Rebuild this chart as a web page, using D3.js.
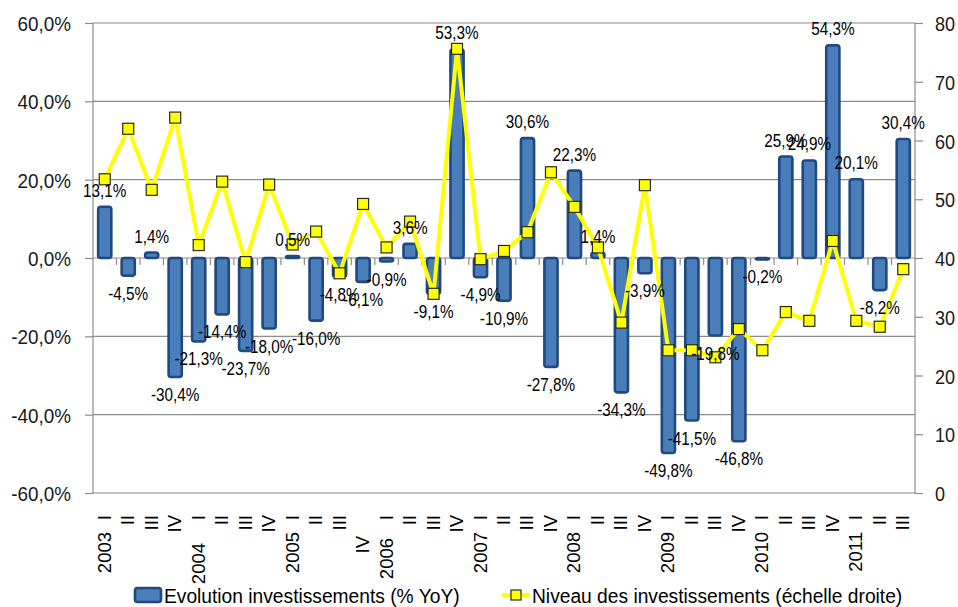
<!DOCTYPE html>
<html>
<head>
<meta charset="utf-8">
<script src="https://cdn.jsdelivr.net/npm/d3@7"></script>
<style>
  html, body { margin: 0; padding: 0; background: #ffffff; }
  svg { display: block; }
  text { font-family: "Liberation Sans", Arial, sans-serif; }
</style>
</head>
<body>
<svg id="chart" width="958" height="607"></svg>
<script>
// ---- Data ----
const categories = [
  "2003 I","2003 II","2003 III","2003 IV",
  "2004 I","2004 II","2004 III","2004 IV",
  "2005 I","2005 II","2005 III","2005 IV",
  "2006 I","2006 II","2006 III","2006 IV",
  "2007 I","2007 II","2007 III","2007 IV",
  "2008 I","2008 II","2008 III","2008 IV",
  "2009 I","2009 II","2009 III","2009 IV",
  "2010 I","2010 II","2010 III","2010 IV",
  "2011 I","2011 II","2011 III"
];
// Evolution investissements (% YoY) - left axis
const evolution = [
  13.1, -4.5, 1.4, -30.4,
  -21.3, -14.4, -23.7, -18.0,
  0.5, -16.0, -4.8, -6.1,
  -0.9, 3.6, -9.1, 53.3,
  -4.9, -10.9, 30.6, -27.8,
  22.3, 1.4, -34.3, -3.9,
  -49.8, -41.5, -19.8, -46.8,
  -0.2, 25.9, 24.9, 54.3,
  20.1, -8.2, 30.4
];
// Niveau des investissements (échelle droite) - right axis
const niveau = [
  53.4, 62.0, 51.6, 63.9,
  42.2, 53.0, 39.3, 52.5,
  42.3, 44.5, 37.4, 49.2,
  41.8, 46.2, 33.9, 75.6,
  39.8, 41.2, 44.4, 54.6,
  48.7, 41.8, 29.0, 52.4,
  24.3, 24.3, 23.1, 27.9,
  24.3, 30.8, 29.3, 42.9,
  29.3, 28.3, 38.1
];
const leftTicks = [-60, -40, -20, 0, 20, 40, 60];
const rightTicks = [0, 10, 20, 30, 40, 50, 60, 70, 80];
const seriesNames = ["Evolution investissements (% YoY)", "Niveau des investissements (échelle droite)"];

// ---- Layout ----
const plot = { left: 93, right: 915, top: 23, bottom: 493 };
const svg = d3.select("#chart");

const locale = d3.formatLocale({ decimal: ",", thousands: " ", grouping: [3], currency: ["", "€"], minus: "-" });
const fmt1 = locale.format(".1f");
const fmtPct = v => fmt1(v) + "%";

const x = d3.scaleBand().domain(categories).range([plot.left, plot.right]).padding(0);
const yL = d3.scaleLinear().domain([-60, 60]).range([plot.bottom, plot.top]);
const yR = d3.scaleLinear().domain([0, 80]).range([plot.bottom, plot.top]);

const gridColor = "#8c8c8c";
const barW = x.bandwidth() * 0.56;

// condensed text helper (horizontal squeeze to imitate a narrow face)
function narrow(sel, px, py, sx) {
  sel.attr("x", 0).attr("y", 0).attr("transform", `translate(${px},${py}) scale(${sx},1)`);
}

// Gridlines
svg.append("g").selectAll("line").data(leftTicks).join("line")
  .attr("x1", plot.left).attr("x2", plot.right)
  .attr("y1", d => yL(d)).attr("y2", d => yL(d))
  .attr("stroke", gridColor).attr("stroke-width", 1.2);

// Left axis
const gL = svg.append("g").attr("transform", `translate(${plot.left},0)`)
  .call(d3.axisLeft(yL).tickValues(leftTicks).tickSize(8).tickFormat(fmtPct));
gL.select(".domain").attr("stroke", gridColor).attr("stroke-width", 1.2).attr("d", `M0,${plot.top}V${plot.bottom}`);
gL.selectAll(".tick line").attr("stroke", gridColor).attr("stroke-width", 1.2);
gL.selectAll(".tick text").each(function () {
  const t = d3.select(this);
  t.attr("font-size", 21).attr("fill", "#1a1a1a").attr("text-anchor", "end").attr("dy", "0.36em");
  narrow(t, -22, 0, 0.9);
});

// Right axis
const gR = svg.append("g").attr("transform", `translate(${plot.right},0)`)
  .call(d3.axisRight(yR).tickValues(rightTicks).tickSize(8).tickFormat(d3.format("d")));
gR.select(".domain").attr("stroke", gridColor).attr("stroke-width", 1.2).attr("d", `M0,${plot.top}V${plot.bottom}`);
gR.selectAll(".tick line").attr("stroke", gridColor).attr("stroke-width", 1.2);
gR.selectAll(".tick text").each(function () {
  const t = d3.select(this);
  t.attr("font-size", 21).attr("fill", "#1a1a1a").attr("text-anchor", "start").attr("dy", "0.36em");
  narrow(t, 20, 0, 0.86);
});

// Category ticks on zero line
const boundaries = categories.slice(1).map(c => x(c));
svg.append("g").selectAll("line").data(boundaries).join("line")
  .attr("x1", d => d).attr("x2", d => d)
  .attr("y1", yL(0)).attr("y2", yL(0) + 7)
  .attr("stroke", gridColor).attr("stroke-width", 1.2);

// Bars
svg.append("g").selectAll("rect").data(evolution).join("rect")
  .attr("x", (d, i) => x(categories[i]) + (x.bandwidth() - barW) / 2)
  .attr("y", d => d >= 0 ? yL(d) : yL(0))
  .attr("width", barW)
  .attr("height", d => Math.max(1.5, Math.abs(yL(d) - yL(0))))
  .attr("rx", 2.5).attr("ry", 2.5)
  .attr("fill", "#4a7ebb")
  .attr("stroke", "#20497f")
  .attr("stroke-width", 2.6);

// Line
const cx = i => x(categories[i]) + x.bandwidth() / 2;
const line = d3.line().x((d, i) => cx(i)).y(d => yR(d));
svg.append("path").datum(niveau)
  .attr("d", line)
  .attr("fill", "none")
  .attr("stroke", "#ffff00")
  .attr("stroke-width", 4)
  .attr("stroke-linejoin", "miter");

// Markers
const ms = 11;
svg.append("g").selectAll("rect").data(niveau).join("rect")
  .attr("x", (d, i) => cx(i) - ms / 2)
  .attr("y", d => yR(d) - ms / 2)
  .attr("width", ms).attr("height", ms)
  .attr("fill", "#ffff00")
  .attr("stroke", "#2a2a1a")
  .attr("stroke-width", 1.2);

// Data labels
svg.append("g").selectAll("text").data(evolution).join("text")
  .attr("font-size", 18)
  .attr("fill", "#000")
  .attr("text-anchor", "middle")
  .text(d => fmtPct(d))
  .each(function (d, i) {
    narrow(d3.select(this), cx(i), d >= 0 ? yL(d) - 10 : yL(d) + 24, 0.85);
  });

// Category labels (rotated)
const quarterShift = { 11: 21 };
const yearShift = { 4: 11, 12: 6 };
const catG = svg.append("g");
categories.forEach((c, i) => {
  const [yr, q] = c.split(" ");
  const qy = 515 + (quarterShift[i] || 0);
  catG.append("text")
    .attr("font-size", 18.5)
    .attr("fill", "#000")
    .attr("text-anchor", "end")
    .attr("transform", `translate(${cx(i) + 6},${qy}) rotate(-90)`)
    .text(q);
  if (q === "I") {
    const yy = 532 + (yearShift[i] || 0);
    catG.append("text")
      .attr("font-size", 18.5)
      .attr("fill", "#000")
      .attr("text-anchor", "end")
      .attr("transform", `translate(${cx(i) + 6},${yy}) rotate(-90)`)
      .text(yr);
  }
});

// Legend
const leg = svg.append("g");
leg.append("rect").attr("x", 135).attr("y", 588).attr("width", 26).attr("height", 14)
  .attr("rx", 2.5).attr("fill", "#4a7ebb").attr("stroke", "#20497f").attr("stroke-width", 2.6);
leg.append("text").attr("font-size", 21).attr("fill", "#000").text(seriesNames[0])
  .call(narrow, 164, 603, 0.915);
leg.append("line").attr("x1", 502).attr("x2", 530).attr("y1", 595).attr("y2", 595)
  .attr("stroke", "#ffff00").attr("stroke-width", 4);
leg.append("rect").attr("x", 511).attr("y", 590).attr("width", 10).attr("height", 10)
  .attr("fill", "#ffff00").attr("stroke", "#2a2a1a").attr("stroke-width", 1.2);
leg.append("text").attr("font-size", 21).attr("fill", "#000").text(seriesNames[1])
  .call(narrow, 532, 603, 0.915);
</script>
</body>
</html>
